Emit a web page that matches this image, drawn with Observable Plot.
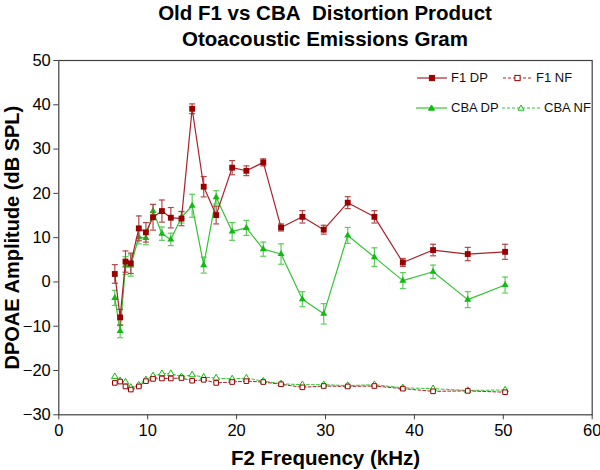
<!DOCTYPE html>
<html>
<head>
<meta charset="utf-8">
<script src="https://cdn.jsdelivr.net/npm/d3@7"></script>
<script src="https://cdn.jsdelivr.net/npm/@observablehq/plot@0.6"></script>
<style>
  html, body { margin: 0; padding: 0; background: #fff; }
  #wrap { position: relative; width: 600px; height: 470px; font-family: "Liberation Sans", Arial, sans-serif; }
  #title { height: 50px; box-sizing: border-box; padding-top: 0; padding-left: 50px; text-align: center; font-weight: bold; font-size: 20.5px; line-height: 25.5px; color: #000; white-space: nowrap; }
  #chart svg { overflow: visible; }
  .leg { position: absolute; font-size: 13px; line-height: 16px; color: #111; white-space: nowrap; }
  .leg svg { position: absolute; top: 2px; }
</style>
</head>
<body>
<div id="wrap">
  <div id="title">Old F1 vs CBA&nbsp; Distortion Product<br>Otoacoustic Emissions Gram</div>
  <div id="chart"></div>
  <div id="legend"></div>
</div>
<script>
// ---- data ----
const freq = [6.3, 6.9, 7.5, 8.1, 9.0, 9.8, 10.6, 11.6, 12.6, 13.8, 15.0, 16.3, 17.7, 19.5, 21.1, 23.0, 25.0, 27.4, 29.8, 32.5, 35.5, 38.7, 42.1, 46.0, 50.2];
const f1Dp = [1.8, -8.0, 4.6, 4.2, 12.1, 11.2, 14.6, 16.0, 14.5, 14.3, 39.1, 21.5, 15.1, 25.8, 25.1, 27.0, 12.3, 14.7, 11.8, 17.9, 14.7, 4.4, 7.2, 6.3, 6.8];
const f1DpErr = [2.1, 1.8, 2.4, 2.3, 2.8, 2.2, 2.9, 2.5, 2.3, 1.6, 1.1, 2.3, 2.0, 1.6, 1.1, 0.8, 0.8, 1.4, 1.0, 1.35, 1.4, 0.9, 1.3, 1.5, 1.7];
const cbaDp = [-3.6, -11.1, 3.7, 3.7, 10.1, 9.9, 16.0, 10.9, 9.6, 14.6, 17.2, 3.8, 19.1, 11.4, 12.2, 7.4, 6.3, -3.9, -7.2, 10.5, 5.6, 0.3, 2.3, -4.0, -0.7];
const cbaDpErr = [1.7, 1.5, 2.0, 2.4, 1.5, 1.5, 1.5, 1.5, 1.4, 1.3, 2.6, 1.8, 1.5, 2.0, 1.7, 1.6, 2.3, 1.7, 2.3, 1.8, 2.1, 1.8, 1.5, 1.8, 1.8];
const f1Nf = [-22.8, -22.5, -23.6, -24.3, -23.6, -22.4, -21.9, -21.8, -21.8, -21.7, -22.3, -22.1, -22.8, -22.6, -22.4, -22.6, -23.1, -23.8, -23.5, -23.6, -23.5, -24.1, -24.7, -24.6, -24.9];
const cbaNf = [-21.4, -22.3, -22.6, -23.8, -23.3, -22.1, -21.2, -20.7, -20.7, -21.4, -21.0, -21.5, -21.7, -21.9, -21.7, -22.4, -23.0, -23.2, -23.2, -23.4, -23.2, -23.9, -24.1, -24.5, -24.4];
const xTicks = [0, 10, 20, 30, 40, 50, 60];
const yTicks = [-30, -20, -10, 0, 10, 20, 30, 40, 50];
const seriesNames = ["F1 DP", "F1 NF", "CBA DP", "CBA NF"];
const xLabel = "F2 Frequency (kHz)";
const yLabel = "DPOAE Amplitude (dB SPL)";

// ---- styles ----
const RED = "#990000", RED_LINE = "#a8222c", RED_ERR = "#b0484c";
const GREEN = "#11bb11", GREEN_LINE = "#33c433", GREEN_ERR = "#5ccc5c";

const rows = (vals, errs) => freq.map((f, i) => ({x: f, y: vals[i], e: errs ? errs[i] : 0}));
const f1DpData = rows(f1Dp, f1DpErr);
const cbaDpData = rows(cbaDp, cbaDpErr);
const f1NfData = rows(f1Nf);
const cbaNfData = rows(cbaNf);

const cap = {draw(ctx, size) { const r = Math.sqrt(size / Math.PI); ctx.moveTo(-r, 0); ctx.lineTo(r, 0); }};

function errorBars(data, color) {
  return [
    Plot.ruleX(data, {x: "x", y1: d => d.y - d.e, y2: d => d.y + d.e, stroke: color, strokeWidth: 1.2}),
    Plot.dot(data, {x: "x", y: d => d.y + d.e, symbol: cap, r: 3, stroke: color, strokeWidth: 1.2}),
    Plot.dot(data, {x: "x", y: d => d.y - d.e, symbol: cap, r: 3, stroke: color, strokeWidth: 1.2})
  ];
}

const chart = Plot.plot({
  width: 600,
  height: 420,
  marginLeft: 58.3,
  marginRight: 8.3,
  marginTop: 10,
  marginBottom: 55.7,
  style: {fontFamily: "'Liberation Sans', Arial, sans-serif", fontSize: "16px", color: "#000", background: "#fff", overflow: "visible"},
  x: {domain: [0, 60], ticks: xTicks, label: null},
  y: {domain: [-30, 50], ticks: yTicks, label: null},
  marks: [
    Plot.axisX({ticks: xTicks, tickSize: 5, tickPadding: 4, fontSize: 16.5, stroke: "#404040", label: null}),
    Plot.axisY({ticks: yTicks, tickSize: 5, tickPadding: 3, fontSize: 16.5, stroke: "#404040", label: null}),
    Plot.frame({stroke: "#404040", strokeWidth: 1.2}),
    // noise floors
    Plot.line(cbaNfData, {x: "x", y: "y", stroke: GREEN_LINE, strokeWidth: 1, strokeDasharray: "3,2"}),
    Plot.line(f1NfData, {x: "x", y: "y", stroke: RED_LINE, strokeWidth: 1, strokeDasharray: "3,2"}),
    Plot.dot(cbaNfData, {x: "x", y: "y", symbol: "triangle", r: 2.4, stroke: GREEN, fill: "white", strokeWidth: 1}),
    Plot.dot(f1NfData, {x: "x", y: "y", symbol: "square", r: 2.6, stroke: RED, fill: "white", strokeWidth: 1}),
    // CBA DP
    ...errorBars(cbaDpData, GREEN_ERR),
    Plot.line(cbaDpData, {x: "x", y: "y", stroke: GREEN_LINE, strokeWidth: 1.2}),
    Plot.dot(cbaDpData, {x: "x", y: "y", symbol: "triangle", r: 2.6, fill: GREEN}),
    // F1 DP
    ...errorBars(f1DpData, RED_ERR),
    Plot.line(f1DpData, {x: "x", y: "y", stroke: RED_LINE, strokeWidth: 1.2}),
    Plot.dot(f1DpData, {x: "x", y: "y", symbol: "square", r: 3.3, fill: RED}),
    // axis titles
    Plot.text([yLabel], {text: d => d, frameAnchor: "left", dx: -46.5, rotate: -90, textAnchor: "middle", lineAnchor: "middle", fontSize: 20, fontWeight: "bold", fill: "#000"}),
    Plot.text([xLabel], {text: d => d, frameAnchor: "bottom", dy: 44, textAnchor: "middle", lineAnchor: "middle", fontSize: 20.5, fontWeight: "bold", fill: "#000"})
  ]
});
document.getElementById("chart").appendChild(chart);

// ---- legend (inside plot area, top right) ----
const legendItems = [
  {name: seriesNames[0], color: RED, line: RED_LINE, dash: null, sym: "square", fill: true, left: 417, top: 78, sw: 30},
  {name: seriesNames[1], color: RED, line: RED_LINE, dash: "3,2", sym: "square", fill: false, left: 503, top: 78, sw: 29},
  {name: seriesNames[2], color: GREEN, line: GREEN_LINE, dash: null, sym: "triangle", fill: true, left: 416, top: 108, sw: 31},
  {name: seriesNames[3], color: GREEN, line: GREEN_LINE, dash: "3,2", sym: "triangle", fill: false, left: 502, top: 108, sw: 38}
];
const legend = document.getElementById("legend");
for (const it of legendItems) {
  const div = document.createElement("div");
  div.className = "leg";
  div.style.left = it.left + "px";
  div.style.top = (it.top - 8) + "px";
  const w = it.sw, cx = w / 2;
  let marker;
  if (it.sym === "square") {
    marker = `<rect x="${cx - 2.6}" y="${6 - 2.6}" width="5.2" height="5.2" fill="${it.fill ? it.color : "white"}" stroke="${it.color}" stroke-width="1"/>`;
  } else {
    marker = `<path d="M${cx},${6 - 3} L${cx + 3},${6 + 2.2} L${cx - 3},${6 + 2.2} Z" fill="${it.fill ? it.color : "white"}" stroke="${it.color}" stroke-width="1"/>`;
  }
  div.innerHTML = `<svg width="${w}" height="12" style="left:0">` +
    `<line x1="0" y1="6" x2="${w}" y2="6" stroke="${it.line}" stroke-width="1.2" ${it.dash ? `stroke-dasharray="${it.dash}"` : ""}/>` +
    marker + `</svg><span style="position:absolute; left:${w + 4}px; top:0">${it.name}</span>`;
  legend.appendChild(div);
}
</script>
</body>
</html>
